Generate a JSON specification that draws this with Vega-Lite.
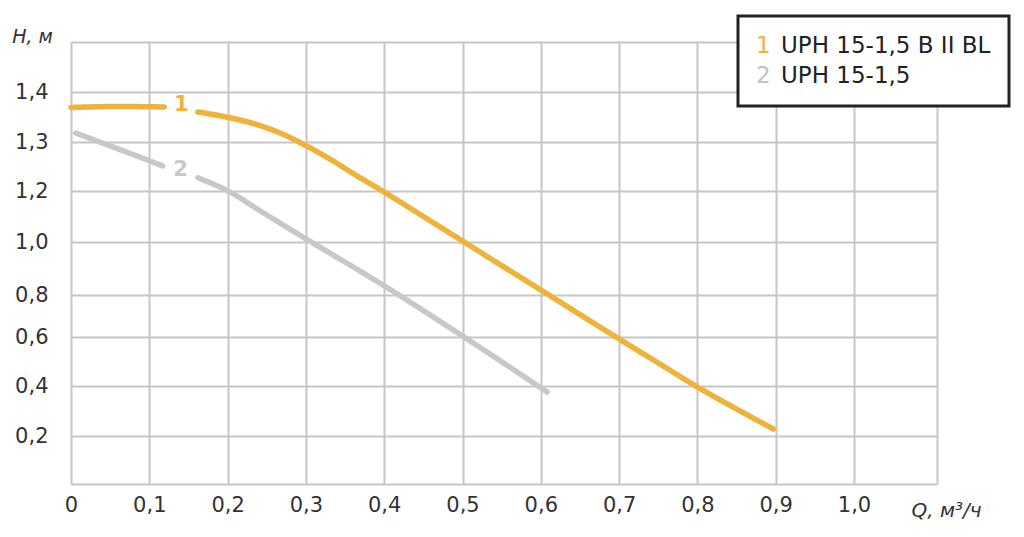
{
  "$schema": "https://vega.github.io/schema/vega-lite/v6.json",
  "width": 866,
  "height": 442,
  "autosize": {"type": "none"},
  "padding": {"left": 71, "top": 42, "right": 87, "bottom": 53},
  "background": "white",
  "config": {"view": {"stroke": null}, "font": "DejaVu Sans"},
  "datasets": {
    "curves": [
      {"id": "1", "series": "UPH 15-1,5 B II BL", "part": "a", "Q": 0.0, "H": 1.369},
      {"id": "1", "series": "UPH 15-1,5 B II BL", "part": "a", "Q": 0.06, "H": 1.371},
      {"id": "1", "series": "UPH 15-1,5 B II BL", "part": "a", "Q": 0.119, "H": 1.37},
      {"id": "1", "series": "UPH 15-1,5 B II BL", "part": "b", "Q": 0.162, "H": 1.36},
      {"id": "1", "series": "UPH 15-1,5 B II BL", "part": "b", "Q": 0.198, "H": 1.35},
      {"id": "1", "series": "UPH 15-1,5 B II BL", "part": "b", "Q": 0.235, "H": 1.336},
      {"id": "1", "series": "UPH 15-1,5 B II BL", "part": "b", "Q": 0.267, "H": 1.318},
      {"id": "1", "series": "UPH 15-1,5 B II BL", "part": "b", "Q": 0.296, "H": 1.296},
      {"id": "1", "series": "UPH 15-1,5 B II BL", "part": "b", "Q": 0.331, "H": 1.265},
      {"id": "1", "series": "UPH 15-1,5 B II BL", "part": "b", "Q": 0.363, "H": 1.233},
      {"id": "1", "series": "UPH 15-1,5 B II BL", "part": "b", "Q": 0.4, "H": 1.196},
      {"id": "1", "series": "UPH 15-1,5 B II BL", "part": "b", "Q": 0.45, "H": 1.1},
      {"id": "1", "series": "UPH 15-1,5 B II BL", "part": "b", "Q": 0.5, "H": 1.004},
      {"id": "1", "series": "UPH 15-1,5 B II BL", "part": "b", "Q": 0.55, "H": 0.911},
      {"id": "1", "series": "UPH 15-1,5 B II BL", "part": "b", "Q": 0.6, "H": 0.819},
      {"id": "1", "series": "UPH 15-1,5 B II BL", "part": "b", "Q": 0.65, "H": 0.707},
      {"id": "1", "series": "UPH 15-1,5 B II BL", "part": "b", "Q": 0.7, "H": 0.592},
      {"id": "1", "series": "UPH 15-1,5 B II BL", "part": "b", "Q": 0.75, "H": 0.494},
      {"id": "1", "series": "UPH 15-1,5 B II BL", "part": "b", "Q": 0.8, "H": 0.396},
      {"id": "1", "series": "UPH 15-1,5 B II BL", "part": "b", "Q": 0.85, "H": 0.308},
      {"id": "1", "series": "UPH 15-1,5 B II BL", "part": "b", "Q": 0.897, "H": 0.228},
      {"id": "2", "series": "UPH 15-1,5", "part": "a", "Q": 0.006, "H": 1.318},
      {"id": "2", "series": "UPH 15-1,5", "part": "a", "Q": 0.05, "H": 1.292},
      {"id": "2", "series": "UPH 15-1,5", "part": "a", "Q": 0.098, "H": 1.263},
      {"id": "2", "series": "UPH 15-1,5", "part": "a", "Q": 0.117, "H": 1.251},
      {"id": "2", "series": "UPH 15-1,5", "part": "b", "Q": 0.162, "H": 1.227},
      {"id": "2", "series": "UPH 15-1,5", "part": "b", "Q": 0.198, "H": 1.202},
      {"id": "2", "series": "UPH 15-1,5", "part": "b", "Q": 0.25, "H": 1.106},
      {"id": "2", "series": "UPH 15-1,5", "part": "b", "Q": 0.296, "H": 1.02},
      {"id": "2", "series": "UPH 15-1,5", "part": "b", "Q": 0.396, "H": 0.842},
      {"id": "2", "series": "UPH 15-1,5", "part": "b", "Q": 0.502, "H": 0.6},
      {"id": "2", "series": "UPH 15-1,5", "part": "b", "Q": 0.608, "H": 0.376}
    ],
    "labels": [
      {"id": "1", "series": "UPH 15-1,5 B II BL", "Q": 0.141, "H": 1.374},
      {"id": "2", "series": "UPH 15-1,5", "Q": 0.14, "H": 1.242}
    ]
  },
  "layer": [
    {
      "data": {"name": "curves"},
      "mark": {"type": "line", "strokeWidth": 5.5, "interpolate": "monotone", "strokeCap": "round"},
      "encoding": {
        "x": {
          "field": "Q", "type": "quantitative",
          "scale": {"domain": [0, 1, 1.1], "range": [0, 783, 866], "nice": false, "zero": false},
          "axis": {
            "values": [0, 0.1, 0.2, 0.3, 0.4, 0.5, 0.6, 0.7, 0.8, 0.9, 1.0, 1.1],
            "labelExpr": "datum.value < 0.05 ? '0' : (datum.value > 1.05 ? '' : replace(format(datum.value, '.1f'), '.', ','))",
            "grid": true, "gridColor": "#C6C6C6", "gridWidth": 2,
            "domain": false, "ticks": false, "tickSize": 0,
            "labelPadding": 10, "labelFont": "DejaVu Sans", "labelFontSize": 21, "labelColor": "#333333",
            "labelFlush": false, "labelOverlap": false,
            "title": "Q, м³/ч", "titleFont": "DejaVu Sans", "titleFontSize": 20, "titleFontStyle": "italic",
            "titleFontWeight": "normal", "titleColor": "#333333",
            "titleX": 875, "titleY": 26, "titleAlign": "center", "titleBaseline": "middle"
          }
        },
        "y": {
          "field": "H", "type": "quantitative",
          "scale": {
            "domain": [0, 0.2, 0.4, 0.6, 0.8, 1.0, 1.2, 1.3, 1.4, 1.5],
            "range": [442, 394, 344, 295, 253, 200, 149, 100, 50, 0],
            "nice": false, "zero": false
          },
          "axis": {
            "values": [0, 0.2, 0.4, 0.6, 0.8, 1.0, 1.2, 1.3, 1.4, 1.5],
            "labelExpr": "(datum.value < 0.05 || datum.value > 1.45) ? '' : replace(format(datum.value, '.1f'), '.', ',')",
            "grid": true, "gridColor": "#C6C6C6", "gridWidth": 2,
            "domain": false, "ticks": false, "tickSize": 0,
            "labelPadding": 23, "labelFont": "DejaVu Sans", "labelFontSize": 21, "labelColor": "#333333",
            "labelOverlap": false, "labelFlush": false,
            "title": "H, м", "titleAngle": 0, "titleFont": "DejaVu Sans", "titleFontSize": 19,
            "titleFontStyle": "italic", "titleFontWeight": "normal", "titleColor": "#333333",
            "titleX": -39, "titleY": -6, "titleAlign": "center", "titleBaseline": "middle"
          }
        },
        "color": {
          "field": "series", "type": "nominal",
          "scale": {"domain": ["UPH 15-1,5 B II BL", "UPH 15-1,5"], "range": ["#EFB23A", "#C8C8C8"]},
          "legend": {
            "title": null, "orient": "none", "legendX": 667, "legendY": -26, "direction": "vertical",
            "padding": 18, "strokeColor": "#222222", "fillColor": "white",
            "symbolType": "circle", "symbolSize": 100, "symbolOpacity": 0, "symbolStrokeWidth": 0,
            "labelOffset": 2, "labelFont": "DejaVu Sans", "labelFontSize": 23, "labelColor": "#222222",
            "labelLimit": 400, "rowPadding": 6,
            "encoding": {"legend": {"strokeWidth": {"value": 3}}}
          }
        },
        "strokeDash": {
          "field": "id", "type": "nominal",
          "scale": {"domain": ["1", "2"], "range": [[1, 0], [1, 0]]},
          "legend": {
            "title": null, "orient": "none", "legendX": 662, "legendY": -8, "direction": "vertical",
            "padding": 0, "symbolType": "circle", "symbolSize": 0, "symbolOpacity": 0, "symbolStrokeWidth": 0,
            "labelOffset": 0, "labelFont": "DejaVu Sans", "labelFontSize": 23, "labelColor": "#C2C2C2",
            "rowPadding": 6,
            "encoding": {"labels": {"fill": {"condition": {"test": "datum.value === '1'", "value": "#EFB23A"}, "value": "#C2C2C2"}}}
          }
        },
        "detail": {"field": "part", "type": "nominal"}
      }
    },
    {
      "data": {"name": "labels"},
      "mark": {"type": "text", "font": "DejaVu Sans", "fontSize": 21, "fontWeight": "bold"},
      "encoding": {
        "x": {"field": "Q", "type": "quantitative"},
        "y": {"field": "H", "type": "quantitative"},
        "text": {"field": "id"},
        "color": {"field": "series", "type": "nominal"}
      }
    }
  ]
}
